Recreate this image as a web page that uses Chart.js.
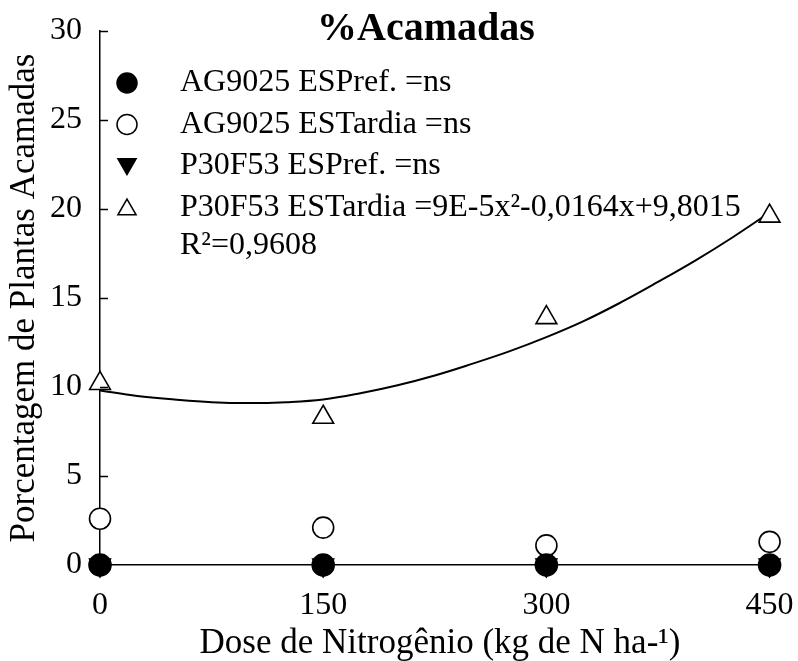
<!DOCTYPE html>
<html>
<head>
<meta charset="utf-8">
<script src="https://cdn.jsdelivr.net/npm/chart.js@4/dist/chart.umd.min.js"></script>
<style>
  html, body { margin: 0; padding: 0; background: #fff; }
  #wrap { width: 798px; height: 661px; }
</style>
</head>
<body>
<div id="wrap"><canvas id="chart"></canvas></div>
<script>
const serif = '"Liberation Serif", "DejaVu Serif", serif';

const doses = [0, 150, 300, 450];
const yTicks = [0, 5, 10, 15, 20, 25, 30];

const ag9025Pref = [0, 0, 0, 0];
const ag9025Tardia = [2.6, 2.1, 1.1, 1.3];
const p30f53Pref = [0, 0, 0, 0];
const p30f53Tardia = [10.2, 8.3, 13.9, 19.6];

// fitted curve for P30F53 ESTardia
const curveX = [0, 25, 50, 75, 100, 125, 150, 175, 200, 225, 250, 275, 300, 325, 350, 375, 400, 425, 450];
const curveY = [9.8, 9.5, 9.3, 9.15, 9.1, 9.15, 9.3, 9.65, 10.1, 10.65, 11.3, 12.0, 12.8, 13.7, 14.75, 15.9, 17.1, 18.4, 19.8];

const titleText = "%Acamadas";
const xTitle = "Dose de Nitrogênio (kg de N ha-¹)";
const yTitle = "Porcentagem de Plantas Acamadas";
const legendLabels = [
  ["AG9025 ESPref. =ns"],
  ["AG9025 ESTardia =ns"],
  ["P30F53 ESPref. =ns"],
  ["P30F53 ESTardia =9E-5x²-0,0164x+9,8015", "R²=0,9608"]
];

function points(values) {
  return doses.map((x, i) => ({ x, y: values[i] }));
}

const markerSets = [
  { values: ag9025Pref, pointStyle: "circle", radius: 11, fill: "#000", rotation: 0 },
  { values: ag9025Tardia, pointStyle: "circle", radius: 10.5, fill: "#fff", rotation: 0 },
  { values: p30f53Pref, pointStyle: "triangle", radius: 12, fill: "#000", rotation: 180 },
  { values: p30f53Tardia, pointStyle: "triangle", radius: 12, fill: "#fff", rotation: 0 }
];

const datasets = markerSets.map((set, i) => ({
  type: "scatter",
  label: legendLabels[i].join(" "),
  legendLines: legendLabels[i],
  data: points(set.values),
  pointStyle: set.pointStyle,
  pointRadius: set.radius,
  pointRotation: set.rotation,
  pointBackgroundColor: set.fill,
  pointBorderColor: "#000",
  pointBorderWidth: 1.6,
  clip: false
}));

datasets.push({
  type: "line",
  label: "ajuste",
  data: curveX.map((x, i) => ({ x, y: curveY[i] })),
  borderColor: "#000",
  borderWidth: 2,
  pointRadius: 0,
  tension: 0.4,
  fill: false
});

const overlay = {
  id: "overlay",
  afterDraw(chart) {
    const { ctx, scales } = chart;
    const y = scales.y;
    const left = chart.chartArea.left;

    // inward tick marks on the y axis
    ctx.save();
    ctx.strokeStyle = "#000";
    ctx.lineWidth = 1.5;
    y.ticks.forEach((t) => {
      const py = Math.round(y.getPixelForValue(t.value)) + 0.5;
      ctx.beginPath();
      ctx.moveTo(left, py);
      ctx.lineTo(left + 8, py);
      ctx.stroke();
    });

    // title
    ctx.fillStyle = "#000";
    ctx.font = `bold 40px ${serif}`;
    ctx.textAlign = "center";
    ctx.textBaseline = "middle";
    ctx.fillText(titleText, 426, 30);

    // legend
    ctx.font = `32px ${serif}`;
    ctx.textAlign = "left";
    let row = 0;
    chart.data.datasets.forEach((ds) => {
      if (!ds.legendLines) return;
      const rowY = 83 + row * 41.5;
      ctx.fillStyle = ds.pointBackgroundColor;
      ctx.strokeStyle = "#000";
      ctx.lineWidth = 1.5;
      Chart.helpers.drawPoint(ctx, {
        pointStyle: ds.pointStyle,
        radius: ds.pointStyle === "triangle" ? 10.5 : 10,
        rotation: ds.pointRotation,
        borderWidth: 1.5
      }, 127, rowY + (ds.pointStyle === "triangle" ? (ds.pointRotation ? -2 : 2) : 0));
      ctx.fillStyle = "#000";
      ds.legendLines.forEach((line, k) => {
        ctx.fillText(line, 180, rowY + k * 38);
      });
      row += 1;
    });
    ctx.restore();
  }
};

new Chart(document.getElementById("chart"), {
  data: { datasets },
  plugins: [overlay],
  options: {
    responsive: true,
    maintainAspectRatio: false,
    animation: false,
    layout: { padding: { top: 31, right: 18, bottom: 0, left: 0 } },
    plugins: {
      legend: { display: false },
      tooltip: { enabled: false }
    },
    scales: {
      x: {
        type: "linear",
        min: 0,
        max: 457,
        afterBuildTicks(scale) {
          scale.ticks = doses.map((value) => ({ value }));
        },
        afterFit(scale) {
          scale.height = 96;
          scale.paddingLeft = 0;
          scale.paddingRight = 0;
        },
        grid: { display: false },
        border: { display: true, color: "#000", width: 1.5 },
        ticks: {
          color: "#000",
          padding: 17,
          maxRotation: 0,
          font: { family: serif, size: 32, lineHeight: 1 }
        },
        title: {
          display: true,
          text: xTitle,
          color: "#000",
          padding: { top: 0, bottom: 0 },
          font: { family: serif, size: 35, lineHeight: 1 }
        }
      },
      y: {
        type: "linear",
        min: 0,
        max: 30,
        afterBuildTicks(scale) {
          scale.ticks = yTicks.map((value) => ({ value }));
        },
        afterFit(scale) {
          scale.width = 100;
          scale.paddingTop = 0;
          scale.paddingBottom = 0;
        },
        grid: { display: false },
        border: { display: true, color: "#000", width: 1.5 },
        ticks: {
          color: "#000",
          padding: 10,
          font: { family: serif, size: 32, lineHeight: 1 }
        },
        title: {
          display: true,
          text: yTitle,
          color: "#000",
          padding: { top: 7, bottom: 0 },
          font: { family: serif, size: 35, lineHeight: 1 }
        }
      }
    }
  }
});
</script>
</body>
</html>
